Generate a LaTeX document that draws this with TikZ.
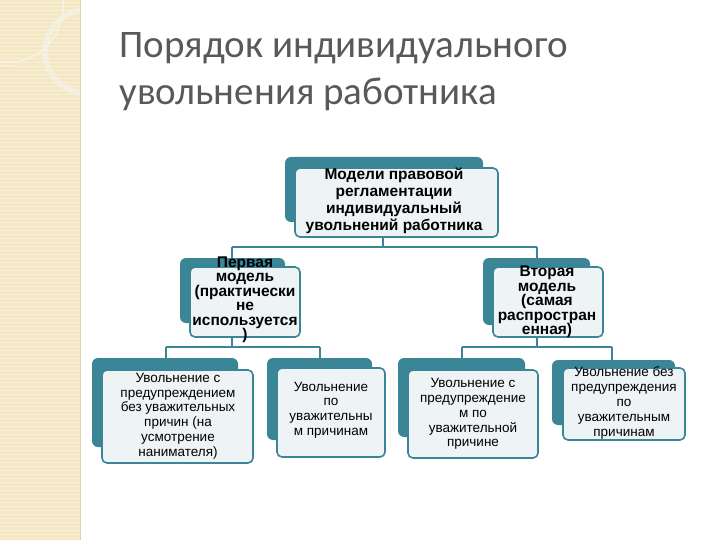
\documentclass[tikz,border=0pt]{standalone}
\usepackage{fontspec}
\setmainfont{Liberation Sans}
\newfontfamily\titlefont{Carlito}
\begin{document}
\begin{tikzpicture}[x=1pt,y=-1pt,
  backbox/.style={fill=teal0,rounded corners=6pt},
  frontbox/.style={fill=front0,draw=teal0,line width=1.6pt,rounded corners=5pt},
  lbl/.style={align=center,font=\fontsize{13.5}{14.8}\selectfont,text=black},
  blbl/.style={lbl,font=\fontsize{15.5}{14.5}\selectfont\bfseries},
  tlbl/.style={lbl,font=\fontsize{15.5}{17}\selectfont\bfseries},
  conn/.style={draw=teal0,line width=1.4pt}]
\definecolor{teal0}{HTML}{3A8596}
\definecolor{front0}{HTML}{EEF4F6}
\definecolor{beige}{HTML}{F3E7C4}
\useasboundingbox (0,0) rectangle (720,540);
\fill[white] (0,0) rectangle (720,540);
\fill[beige] (0,0) rectangle (80,540);
\foreach \yy in {2,6,...,540} \draw[white,opacity=0.35,line width=0.8pt] (0,\yy) -- (80,\yy);
\draw[beige!50!white,line width=1.5pt] (0,62) -- (15,62) .. controls (55,55) and (65,20) .. (63,0);
\draw[beige!85!black!20,line width=6pt,opacity=0.6] (80,93) arc[start angle=100,end angle=260,radius=42];
\draw[beige!80!brown!30,line width=0.6pt] (0,65) -- (15,65);
\draw[beige!80!gray,line width=0.8pt] (80,0) -- (80,540);
\node[anchor=west,font=\titlefont\fontsize{39}{47}\selectfont,text=black!65,align=left] (title) at (116,72) {Порядок индивидуального\\увольнения работника};
% boxes
\fill[backbox] (285,157) rectangle (483,222);
\draw[frontbox] (295,168) rectangle (498,237);
\coordinate (topb) at (383,237);
\node[tlbl] (top) at (394,201) {Модели правовой\\регламентации\\индивидуальный\\увольнений работника};
\fill[backbox] (180,258) rectangle (285,323);
\draw[frontbox] (190,267) rectangle (300,337);
\node[blbl] (m1) at (245,300) {Первая\\модель\\(практически\\не\\используется\\)};
\fill[backbox] (483,258) rectangle (590,325);
\draw[frontbox] (493,267) rectangle (603,337);
\node[blbl] (m2) at (547,302) {Вторая\\модель\\(самая\\распростран\\енная)};
\fill[backbox] (92,358) rectangle (238,447);
\draw[frontbox] (102,370) rectangle (253,463);
\node[lbl] (b1) at (178,416) {Увольнение с\\предупреждением\\без уважительных\\причин (на\\усмотрение\\нанимателя)};
\fill[backbox] (267,358) rectangle (372,440);
\draw[frontbox] (277,368) rectangle (385,457);
\node[lbl] (b2) at (331,410) {Увольнение\\по\\уважительны\\м причинам};
\fill[backbox] (398,358) rectangle (525,437);
\draw[frontbox] (408,370) rectangle (538,458);
\node[lbl] (b3) at (473,414) {Увольнение с\\предупреждение\\м по\\уважительной\\причине};
\fill[backbox] (552,360) rectangle (675,425);
\draw[frontbox] (563,368) rectangle (685,440);
\node[lbl] (b4) at (624,403) {Увольнение без\\предупреждения\\по\\уважительным\\причинам};
% connectors
\coordinate (j0) at (383,247);
\coordinate (j1) at (232,247);
\coordinate (j2) at (537,247);
\draw[conn] (topb) -- (j0);
\draw[conn] (j1) -- (j2);
\draw[conn] (j1) -- (232,258);
\draw[conn] (j2) -- (537,258);
\draw[conn] (232,337) -- (232,347) (166,347) -- (320,347) (166,347) -- (166,358) (320,347) -- (320,358);
\draw[conn] (537,337) -- (537,347) (462,347) -- (612,347) (462,347) -- (462,358) (612,347) -- (612,360);
\end{tikzpicture}
\end{document}
